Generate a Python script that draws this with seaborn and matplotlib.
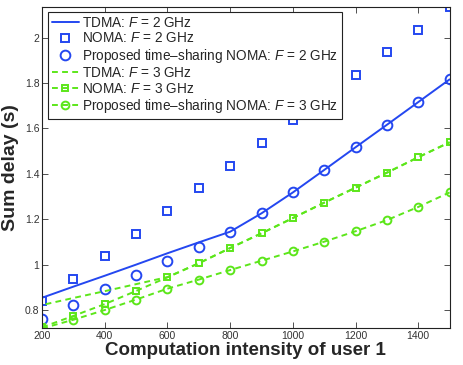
import numpy as np
import pandas as pd
import matplotlib
matplotlib.use("Agg")
import matplotlib.pyplot as plt
import seaborn as sns

# =========================================================
# DATOS
# =========================================================
intensidad = [200, 300, 400, 500, 600, 700, 800, 900, 1000, 1100, 1200, 1300, 1400, 1500]

tdma_f2 = [0.854, 0.903, 0.951, 1.000, 1.050, 1.098, 1.145, 1.226, 1.318, 1.417, 1.517, 1.616, 1.716, 1.816]
noma_f2 = [0.840, 0.938, 1.036, 1.136, 1.236, 1.336, 1.436, 1.536, 1.636, 1.736, 1.835, 1.935, 2.035, 2.135]
prop_f2 = [0.759, 0.823, 0.894, 0.956, 1.017, 1.079, 1.145, 1.226, 1.318, 1.417, 1.517, 1.616, 1.716, 1.816]

tdma_f3 = [0.822, 0.853, 0.883, 0.914, 0.945, 1.006, 1.073, 1.138, 1.205, 1.273, 1.339, 1.405, 1.473, 1.539]
noma_f3 = [0.724, 0.774, 0.826, 0.884, 0.944, 1.006, 1.073, 1.138, 1.205, 1.273, 1.339, 1.405, 1.473, 1.539]
prop_f3 = [0.719, 0.757, 0.800, 0.846, 0.894, 0.934, 0.976, 1.017, 1.058, 1.101, 1.147, 1.196, 1.254, 1.318]

etiquetas = [
    r"TDMA: $F$ = 2 GHz",
    r"NOMA: $F$ = 2 GHz",
    r"Proposed time–sharing NOMA: $F$ = 2 GHz",
    r"TDMA: $F$ = 3 GHz",
    r"NOMA: $F$ = 3 GHz",
    r"Proposed time–sharing NOMA: $F$ = 3 GHz",
]

AZUL = "#2447f0"
VERDE = "#5ce61a"
LW = 1.4
GUIONES = (3.0, 2.2)

# =========================================================
# ESTILO
# =========================================================
sns.set_style("ticks")
plt.rcParams["font.family"] = ["Liberation Sans", "DejaVu Sans"]
plt.rcParams["mathtext.fontset"] = "custom"
plt.rcParams["mathtext.rm"] = "Liberation Sans"
plt.rcParams["mathtext.it"] = "Liberation Sans:italic"

fig = plt.figure(figsize=(4.63, 3.65), dpi=100)
ax = fig.add_axes([0.091, 0.101, 0.880, 0.881])

sns.lineplot(x=intensidad, y=tdma_f2, ax=ax, color=AZUL, lw=LW, label=etiquetas[0])
sns.lineplot(x=intensidad, y=noma_f2, ax=ax, color=AZUL, linestyle="", marker="s",
             ms=5.2, mfc="none", mec=AZUL, mew=1.4, label=etiquetas[1])
sns.lineplot(x=intensidad, y=prop_f2, ax=ax, color=AZUL, linestyle="", marker="o",
             ms=7, mfc="none", mec=AZUL, mew=1.4, label=etiquetas[2])

sns.lineplot(x=intensidad, y=tdma_f3, ax=ax, color=VERDE, lw=LW, label=etiquetas[3])
sns.lineplot(x=intensidad, y=noma_f3, ax=ax, color=VERDE, lw=LW,
             marker="s", ms=4.6, mfc="none", mec=VERDE, mew=1.4, label=etiquetas[4])
sns.lineplot(x=intensidad, y=prop_f3, ax=ax, color=VERDE, lw=LW,
             marker="o", ms=5.6, mfc="none", mec=VERDE, mew=1.4, label=etiquetas[5])

ax.set_xlim(200, 1500)
ax.set_ylim(0.72, 2.137)
ax.set_xticks([200, 400, 600, 800, 1000, 1200, 1400])
ax.set_yticks([0.8, 1, 1.2, 1.4, 1.6, 1.8, 2])
ax.set_yticklabels(["0.8", "1", "1.2", "1.4", "1.6", "1.8", "2"])
ax.tick_params(direction="in", top=True, right=True, length=4, width=0.6,
               labelsize=7.5, colors="#333333", pad=2)
for s in ax.spines.values():
    s.set_linewidth(0.8)
    s.set_color("#222222")

# guiones: alinear la fase de TDMA F=3 con NOMA F=3 donde coinciden (x >= 600)
lineas = ax.get_lines()
l_tdma3, l_noma3, l_prop3 = lineas[3], lineas[4], lineas[5]


def largo_hasta(x, y, xmax):
    pts = ax.transData.transform(np.column_stack([x, y]))
    pts = pts[np.array(x) <= xmax]
    return np.sum(np.hypot(*np.diff(pts, axis=0).T)) * 72.0 / fig.dpi


periodo = (GUIONES[0] + GUIONES[1]) * LW
desfase = (largo_hasta(intensidad, noma_f3, 600) - largo_hasta(intensidad, tdma_f3, 600)) % periodo
l_tdma3.set_linestyle((desfase / LW, GUIONES))
l_noma3.set_linestyle((0, GUIONES))
l_prop3.set_linestyle((0, GUIONES))

ax.set_xlabel("Computation intensity of user 1", fontsize=13.5, fontweight="bold", labelpad=1)
ax.set_ylabel("Sum delay (s)", fontsize=14, fontweight="bold", labelpad=4)

leg = ax.legend(loc="upper left", fontsize=9.8, frameon=True, fancybox=False,
                edgecolor="#222222", framealpha=1, borderpad=0.3, labelspacing=0.1,
                handlelength=2.0, handletextpad=0.25, borderaxespad=0.4)
leg.get_frame().set_linewidth(0.8)
for h in leg.get_lines()[3:]:
    h.set_linestyle((0, GUIONES))

fig.savefig("out.png", dpi=100)
